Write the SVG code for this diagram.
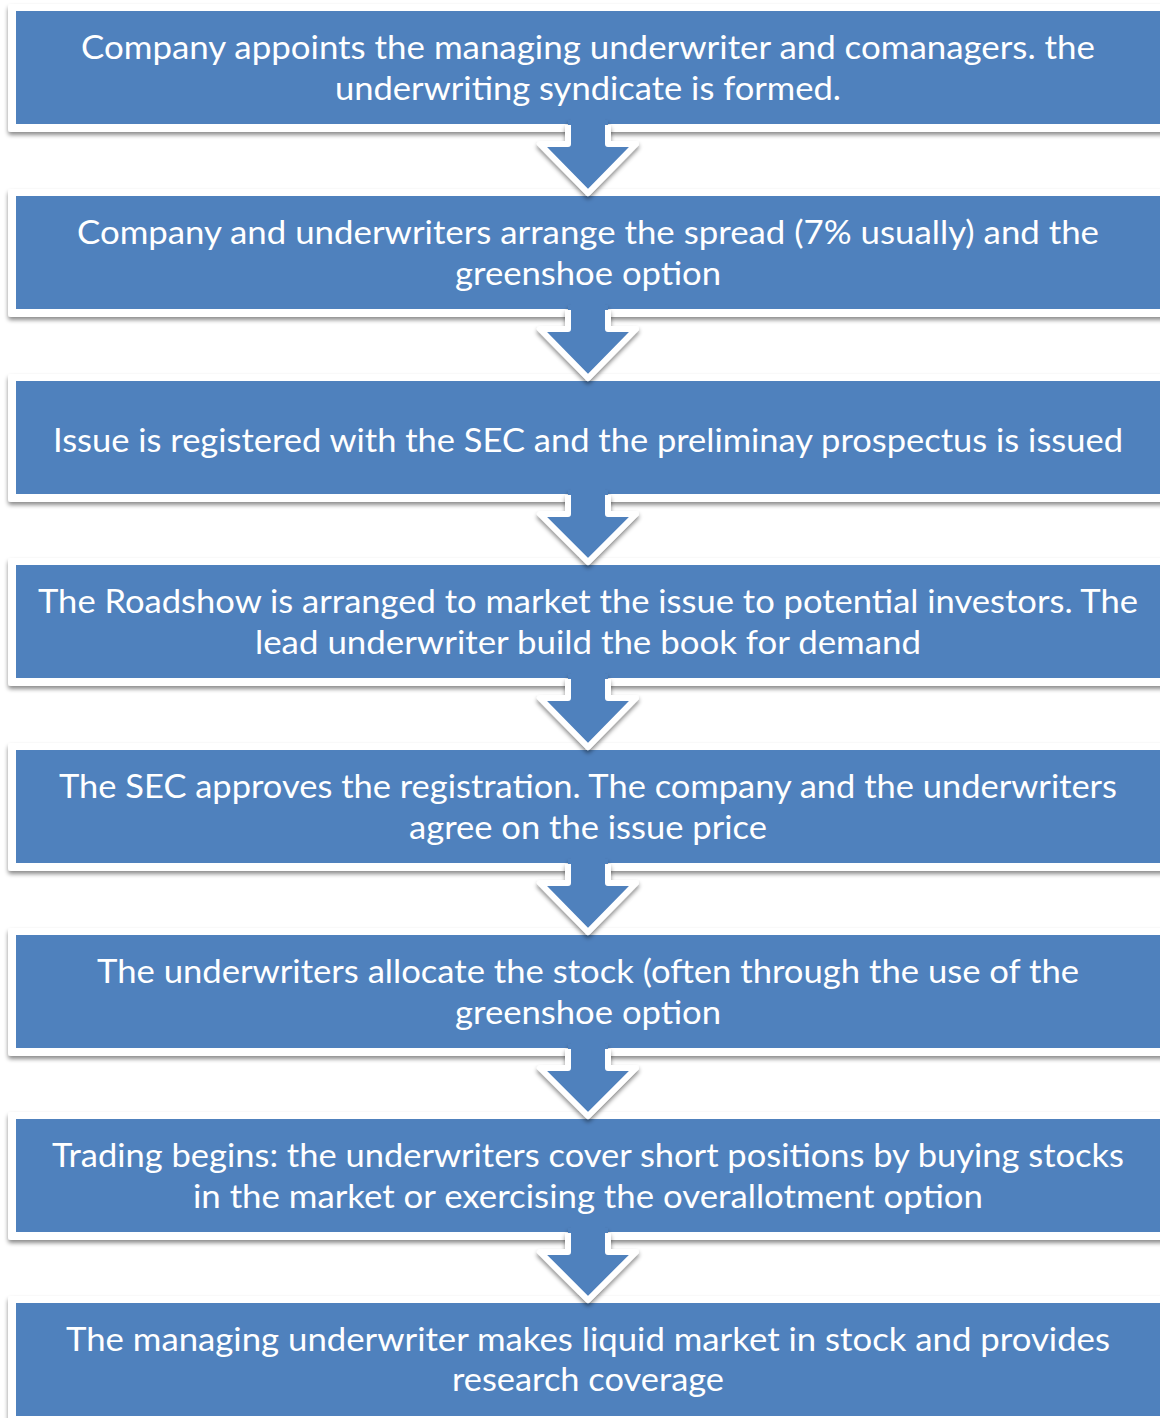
<svg xmlns="http://www.w3.org/2000/svg" width="1160" height="1418" viewBox="0 0 1160 1418">
<defs>
<filter id="sh" x="-5%" y="-20%" width="110%" height="140%">
<feDropShadow dx="0" dy="3" stdDeviation="2.2" flood-color="#000" flood-opacity="0.45"/>
</filter>
<filter id="ash" x="-20%" y="-20%" width="140%" height="140%">
<feDropShadow dx="0" dy="3" stdDeviation="2.2" flood-color="#000" flood-opacity="0.45"/>
</filter>
</defs>
<style>
.frame{fill:#ffffff;filter:url(#sh)}
.box{fill:#4F81BD}
.t{font-family:Lato,"Liberation Sans",Arial,sans-serif;font-size:33px;fill:#ffffff}
.af{fill:#4F81BD}
.as{fill:none;stroke:#ffffff;stroke-width:6;stroke-linejoin:round}
.cov{fill:#4F81BD}
</style>
<rect width="1160" height="1418" fill="#ffffff"/>

<g id="node1">
<rect class="frame" x="8" y="4" width="1170" height="128" rx="3"/>
<rect class="box" x="16" y="11" width="1160" height="113"/>
<text class="t" x="81" y="59" textLength="1014" lengthAdjust="spacingAndGlyphs">Company appoints the managing underwriter and comanagers. the</text>
<text class="t" x="335" y="100" textLength="506" lengthAdjust="spacingAndGlyphs">underwriting syndicate is formed.</text>
</g>
<g id="node2">
<rect class="frame" x="8" y="189" width="1170" height="128" rx="3"/>
<rect class="box" x="16" y="196" width="1160" height="113"/>
<text class="t" x="77" y="244" textLength="1022" lengthAdjust="spacingAndGlyphs">Company and underwriters arrange the spread (7% usually) and the</text>
<text class="t" x="455" y="285" textLength="266" lengthAdjust="spacingAndGlyphs">greenshoe option</text>
</g>
<g id="node3">
<rect class="frame" x="8" y="374" width="1170" height="128" rx="3"/>
<rect class="box" x="16" y="381" width="1160" height="113"/>
<text class="t" x="53" y="452" textLength="1070" lengthAdjust="spacingAndGlyphs">Issue is registered with the SEC and the preliminay prospectus is issued</text>
</g>
<g id="node4">
<rect class="frame" x="8" y="558" width="1170" height="128" rx="3"/>
<rect class="box" x="16" y="565" width="1160" height="113"/>
<text class="t" x="38" y="613" textLength="1100" lengthAdjust="spacingAndGlyphs">The Roadshow is arranged to market the issue to potential investors. The</text>
<text class="t" x="255" y="654" textLength="666" lengthAdjust="spacingAndGlyphs">lead underwriter build the book for demand</text>
</g>
<g id="node5">
<rect class="frame" x="8" y="743" width="1170" height="128" rx="3"/>
<rect class="box" x="16" y="750" width="1160" height="113"/>
<text class="t" x="59" y="798" textLength="1058" lengthAdjust="spacingAndGlyphs">The SEC approves the registration. The company and the underwriters</text>
<text class="t" x="409" y="839" textLength="358" lengthAdjust="spacingAndGlyphs">agree on the issue price</text>
</g>
<g id="node6">
<rect class="frame" x="8" y="928" width="1170" height="128" rx="3"/>
<rect class="box" x="16" y="935" width="1160" height="113"/>
<text class="t" x="97" y="983" textLength="982" lengthAdjust="spacingAndGlyphs">The underwriters allocate the stock (often through the use of the</text>
<text class="t" x="455" y="1024" textLength="266" lengthAdjust="spacingAndGlyphs">greenshoe option</text>
</g>
<g id="node7">
<rect class="frame" x="8" y="1112" width="1170" height="128" rx="3"/>
<rect class="box" x="16" y="1119" width="1160" height="113"/>
<text class="t" x="52" y="1167" textLength="1072" lengthAdjust="spacingAndGlyphs">Trading begins: the underwriters cover short positions by buying stocks</text>
<text class="t" x="193" y="1208" textLength="790" lengthAdjust="spacingAndGlyphs">in the market or exercising the overallotment option</text>
</g>
<g id="node8">
<rect class="frame" x="8" y="1296" width="1170" height="128" rx="3"/>
<rect class="box" x="16" y="1303" width="1160" height="113"/>
<text class="t" x="66" y="1351" textLength="1044" lengthAdjust="spacingAndGlyphs">The managing underwriter makes liquid market in stock and provides</text>
<text class="t" x="452" y="1391" textLength="272" lengthAdjust="spacingAndGlyphs">research coverage</text>
</g>

<g id="connectors">
<g filter="url(#ash)">
<path class="af" d="M568,120 L608,120 L608,144 L636,144 L588,193 L540,144 L568,144 Z"/>
<path class="as" d="M608,125 L608,144 L636,144 L588,193 L540,144 L568,144 L568,125"/>
</g>
<rect class="cov" x="571" y="116" width="34" height="16"/>
<g filter="url(#ash)">
<path class="af" d="M568,305 L608,305 L608,329 L636,329 L588,378 L540,329 L568,329 Z"/>
<path class="as" d="M608,310 L608,329 L636,329 L588,378 L540,329 L568,329 L568,310"/>
</g>
<rect class="cov" x="571" y="301" width="34" height="16"/>
<g filter="url(#ash)">
<path class="af" d="M568,490 L608,490 L608,514 L636,514 L588,562 L540,514 L568,514 Z"/>
<path class="as" d="M608,495 L608,514 L636,514 L588,562 L540,514 L568,514 L568,495"/>
</g>
<rect class="cov" x="571" y="486" width="34" height="16"/>
<g filter="url(#ash)">
<path class="af" d="M568,674 L608,674 L608,698 L636,698 L588,747 L540,698 L568,698 Z"/>
<path class="as" d="M608,679 L608,698 L636,698 L588,747 L540,698 L568,698 L568,679"/>
</g>
<rect class="cov" x="571" y="670" width="34" height="16"/>
<g filter="url(#ash)">
<path class="af" d="M568,859 L608,859 L608,883 L636,883 L588,932 L540,883 L568,883 Z"/>
<path class="as" d="M608,864 L608,883 L636,883 L588,932 L540,883 L568,883 L568,864"/>
</g>
<rect class="cov" x="571" y="855" width="34" height="16"/>
<g filter="url(#ash)">
<path class="af" d="M568,1044 L608,1044 L608,1068 L636,1068 L588,1116 L540,1068 L568,1068 Z"/>
<path class="as" d="M608,1049 L608,1068 L636,1068 L588,1116 L540,1068 L568,1068 L568,1049"/>
</g>
<rect class="cov" x="571" y="1040" width="34" height="16"/>
<g filter="url(#ash)">
<path class="af" d="M568,1228 L608,1228 L608,1252 L636,1252 L588,1300 L540,1252 L568,1252 Z"/>
<path class="as" d="M608,1233 L608,1252 L636,1252 L588,1300 L540,1252 L568,1252 L568,1233"/>
</g>
<rect class="cov" x="571" y="1224" width="34" height="16"/>
</g>
</svg>
